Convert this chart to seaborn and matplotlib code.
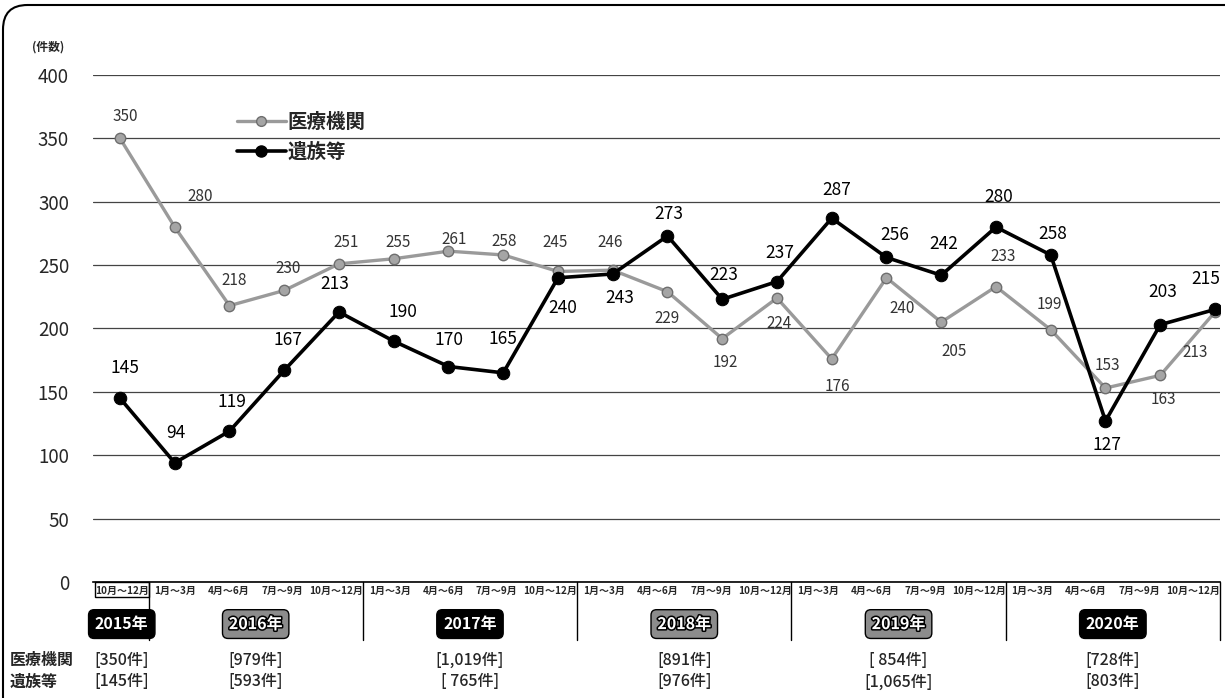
import matplotlib
matplotlib.use('Agg')
import matplotlib.pyplot as plt
import matplotlib.transforms as mtransforms
import matplotlib.patheffects as pe
from matplotlib.patches import FancyBboxPatch, Rectangle
from matplotlib.lines import Line2D
import seaborn as sns
import pandas as pd
import numpy as np

# data
quarters = ['10月～12月'] + ['1月～3月', '4月～6月', '7月～9月', '10月～12月'] * 5
years = ['2015年', '2016年', '2017年', '2018年', '2019年', '2020年']
year_sizes = [1, 4, 4, 4, 4, 4]
iryo = [350, 280, 218, 230, 251, 255, 261, 258, 245, 246, 229,
        192, 224, 176, 240, 205, 233, 199, 153, 163, 213]
izoku = [145, 94, 119, 167, 213, 190, 170, 165, 240, 243, 273,
         223, 237, 287, 256, 242, 280, 258, 127, 203, 215]
iryo_totals = ['[350件]', '[979件]', '[1,019件]', '[891件]', '[ 854件]', '[728件]']
izoku_totals = ['[145件]', '[593件]', '[ 765件]', '[976件]', '[1,065件]', '[803件]']

# label placement (pixel offsets from the point, y up)
iryo_off = [(5, 22), (25, 31), (5, 25), (4, 22), (7, 21), (4, 16), (6, 12),
            (1, 13), (-3, 29), (-3, 28), (0, -27), (3, -24), (2, -25), (6, -28),
            (16, -31), (13, -29), (7, 30), (-1, 25), (2, 23), (3, -24), (-20, -40)]
izoku_off = [(5, 30), (1, 30), (2, 29), (4, 30), (-4, 28), (9, 29), (1, 27),
             (0, 34), (5, -30), (7, -24), (1, 22), (2, 24), (3, 29), (5, 28),
             (8, 22), (3, 31), (3, 30), (2, 21), (2, -24), (3, 33), (-9, 30)]

sns.set_style('white')
plt.rcParams['font.family'] = ['Noto Sans CJK JP', 'DejaVu Sans']

df = pd.DataFrame({'idx': np.arange(len(quarters)), '医療機関': iryo, '遺族等': izoku})

fig = plt.figure(figsize=(12.25, 6.98), dpi=100)
ax = fig.add_axes([0.0756, 0.1662, 0.9207, 0.7264])

sns.lineplot(data=df, x='idx', y='医療機関', ax=ax, color='#9a9a9a', lw=2.4,
             marker='o', markersize=7.5, markerfacecolor='#a5a5a5',
             markeredgecolor='#6e6e6e', markeredgewidth=1, zorder=3)
sns.lineplot(data=df, x='idx', y='遺族等', ax=ax, color='black', lw=2.6,
             marker='o', markersize=9, markerfacecolor='black',
             markeredgecolor='black', zorder=4)

for i, v in enumerate(iryo):
    dx, dy = iryo_off[i]
    ax.annotate(str(v), (i, v), xytext=(dx * 0.72, dy * 0.72), textcoords='offset points',
                ha='center', va='center', fontsize=11, color='#333333', zorder=5)
for i, v in enumerate(izoku):
    dx, dy = izoku_off[i]
    ax.annotate(str(v), (i, v), xytext=(dx * 0.72, dy * 0.72), textcoords='offset points',
                ha='center', va='center', fontsize=12.5, color='black', zorder=5)

ax.set_xlim(-0.5, 20.1)
ax.set_ylim(0, 400)
ax.set_yticks(range(0, 401, 50))
ax.yaxis.grid(True, color='#444444', lw=0.9)
ax.set_axisbelow(True)
for s in ['top', 'right', 'left']:
    ax.spines[s].set_visible(False)
ax.spines['bottom'].set_color('black')
ax.spines['bottom'].set_linewidth(1.2)
ax.tick_params(axis='y', length=0, pad=17, labelsize=13.5)

# the category band under the axis is slightly narrower than the point spacing
slot0, slotw = -0.457, 0.9785
def slot(k):
    return slot0 + slotw * k

ax.set_xticks([slot(i + 0.5) for i in range(len(quarters))])
ax.set_xticklabels(quarters, fontsize=7.2, fontweight='bold')
ax.tick_params(axis='x', length=0, pad=3)
ax.set_xlabel('')
ax.set_ylabel('')

fig.text(48 / 1225, 1 - 47 / 698, '(件数)', ha='center', va='center',
         fontsize=8.5, fontweight='bold')

handles = [Line2D([], [], color='#9a9a9a', lw=2.4, marker='o', markersize=7,
                  markerfacecolor='#a5a5a5', markeredgecolor='#6e6e6e'),
           Line2D([], [], color='black', lw=2.6, marker='o', markersize=8)]
leg = ax.legend(handles, ['医療機関', '遺族等'], loc='upper left',
                bbox_to_anchor=(0.128, 0.925), frameon=False, borderpad=0,
                borderaxespad=0, handlelength=2.5, handletextpad=0.1,
                labelspacing=0.55, prop={'size': 14, 'weight': 'bold'})

# year groups under the axis
trans = mtransforms.blended_transform_factory(ax.transData, ax.transAxes)
starts = np.cumsum([0] + year_sizes[:-1])
ax.add_patch(Rectangle((slot(0), -0.03), slot(1) - slot(0), 0.03, transform=trans,
                       fill=False, ec='black', lw=1, clip_on=False))
for st in list(starts[1:]) + [len(quarters)]:
    ax.plot([slot(st), slot(st)], [0, -0.115], transform=trans, color='black',
            lw=1, clip_on=False)

dark = ['2015年', '2017年', '2020年']
for yr, st, n, t1, t2 in zip(years, starts, year_sizes, iryo_totals, izoku_totals):
    c = slot(st + n / 2)
    if yr in dark:
        ax.text(c, -0.083, yr, transform=trans, ha='center', va='center', color='white',
                fontsize=11.5, fontweight='bold',
                bbox=dict(boxstyle='round,pad=0.4,rounding_size=0.35', fc='black', ec='black'))
    else:
        ax.text(c, -0.083, yr, transform=trans, ha='center', va='center', color='white',
                fontsize=11.5, fontweight='bold',
                path_effects=[pe.withStroke(linewidth=2.2, foreground='black')],
                bbox=dict(boxstyle='round,pad=0.4,rounding_size=0.35', fc='#8c8c8c', ec='black'))
    ax.text(c, -0.154, t1, transform=trans, ha='center', va='center', fontsize=11.5,
            fontweight='medium')
    ax.text(c, -0.197, t2, transform=trans, ha='center', va='center', fontsize=11.5,
            fontweight='medium')

fig.text(10 / 1225, 1 - 660 / 698, '医療機関', ha='left', va='center', fontsize=11.5,
         fontweight='bold')
fig.text(10 / 1225, 1 - 682 / 698, '遺族等', ha='left', va='center', fontsize=11.5,
         fontweight='bold')

# outer frame
frame = FancyBboxPatch((3 / 1225, -0.2), 1.2, 1.2 - 5 / 698,
                       boxstyle='round,pad=0,rounding_size=0.02',
                       mutation_aspect=1225 / 698, transform=fig.transFigure,
                       fill=False, ec='black', lw=1.5)
fig.patches.append(frame)

fig.savefig('out.png', dpi=100)
